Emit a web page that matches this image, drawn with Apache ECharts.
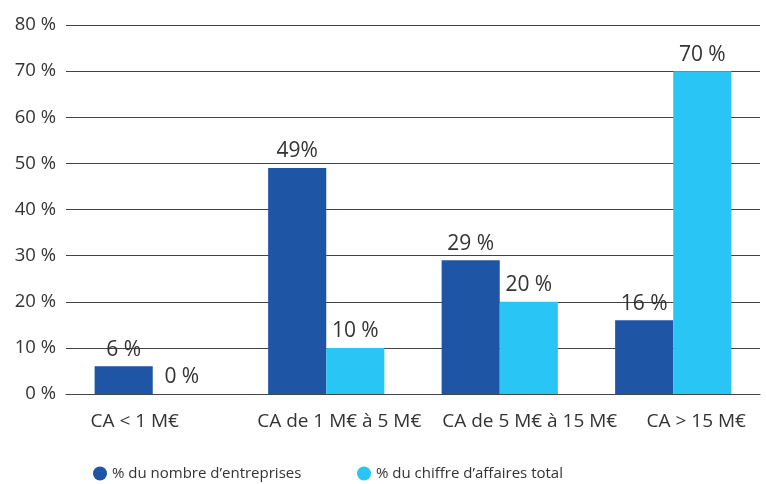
<!DOCTYPE html>
<html><head><meta charset="utf-8">
<script src="https://cdn.jsdelivr.net/npm/echarts@6/dist/echarts.min.js"></script>
<style>html,body{margin:0;padding:0;background:#fff}#c{width:766px;height:484px}</style>
</head><body><div id="c"></div>
<script>
const categories = ["CA < 1 M€", "CA de 1 M€ à 5 M€", "CA de 5 M€ à 15 M€", "CA > 15 M€"];
const seriesNames = ["% du nombre d’entreprises", "% du chiffre d’affaires total"];
const nombre = [6, 49, 29, 16];
const chiffre = [0, 10, 20, 70];
const nombreLabels = ["6 %", "49%", "29 %", "16 %"];
const chiffreLabels = ["0 %", "10 %", "20 %", "70 %"];
const yTicks = [0, 10, 20, 30, 40, 50, 60, 70, 80];

// layout: horizontal shift of each category label (px), as in the reference
const labelShift = [-18, 13, 30, 23];

const FONT = "'Open Sans', sans-serif";
const xData = categories.map((c, i) => {
  const s = labelShift[i];
  return { value: c, textStyle: { padding: s >= 0 ? [0, 0, 0, 2 * s] : [0, -2 * s, 0, 0] } };
});
const chart = echarts.init(document.getElementById('c'));
chart.setOption({
  animation: false,
  textStyle: { fontFamily: FONT },
  grid: { left: 66, right: 6, top: 25, bottom: 90, containLabel: false },
  legend: [
    { data: [seriesNames[0]], left: 88, top: 461, icon: 'circle', itemWidth: 14, itemHeight: 14, itemGap: 4,
      textStyle: { fontSize: 15, color: '#333', fontFamily: FONT } },
    { data: [seriesNames[1]], left: 352, top: 461, icon: 'circle', itemWidth: 14, itemHeight: 14, itemGap: 4,
      textStyle: { fontSize: 15, color: '#333', fontFamily: FONT } }
  ],
  xAxis: {
    type: 'category', data: xData,
    axisLine: { show: true, lineStyle: { color: '#444', width: 1 } },
    axisTick: { show: false },
    axisLabel: { interval: 0, fontSize: 19, color: '#333', margin: 18, fontFamily: FONT }
  },
  yAxis: {
    type: 'value', min: yTicks[0], max: yTicks[yTicks.length - 1], interval: 10,
    axisLine: { show: false }, axisTick: { show: false },
    splitLine: { lineStyle: { color: '#444', width: 1 } },
    axisLabel: { fontSize: 18.5, color: '#333', margin: 10, fontFamily: FONT, formatter: v => v + ' %' }
  },
  series: [
    { name: seriesNames[0], type: 'bar', data: nombre, barGap: '0%', barCategoryGap: '33%',
      itemStyle: { color: '#1e55a5' },
      label: { show: true, position: 'top', distance: 6, fontSize: 21, color: '#333', fontFamily: FONT,
        formatter: p => nombreLabels[p.dataIndex] } },
    { name: seriesNames[1], type: 'bar', data: chiffre, barGap: '0%', barCategoryGap: '33%',
      itemStyle: { color: '#29c5f5' },
      label: { show: true, position: 'top', distance: 6, fontSize: 21, color: '#333', fontFamily: FONT,
        formatter: p => chiffreLabels[p.dataIndex] } }
  ]
});
</script></body></html>
